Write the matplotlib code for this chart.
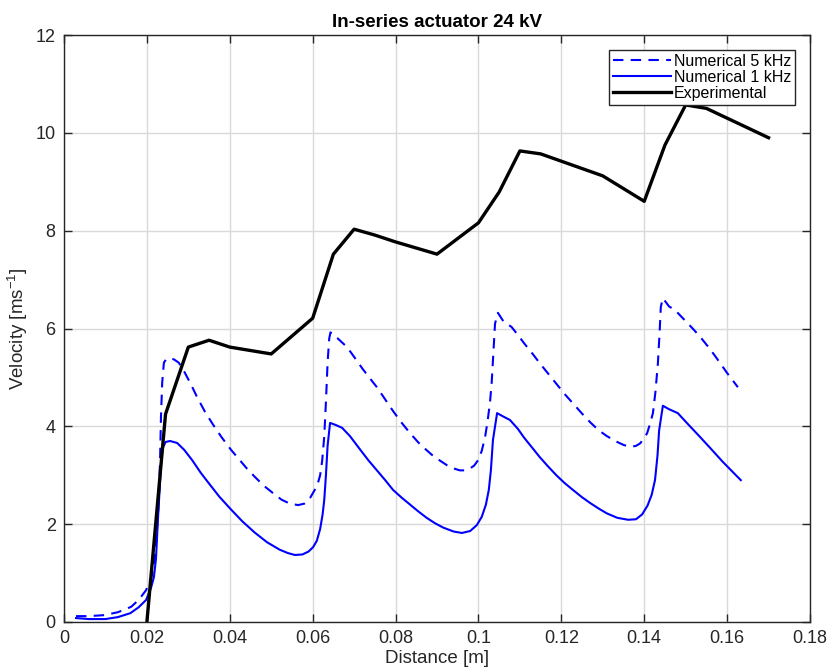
import matplotlib
matplotlib.use("Agg")
import matplotlib.pyplot as plt

plt.rcParams['font.family'] = ['Liberation Sans', 'DejaVu Sans']
plt.rcParams['mathtext.fontset'] = 'custom'
plt.rcParams['mathtext.rm'] = 'Liberation Sans'
plt.rcParams['mathtext.it'] = 'Liberation Sans'

# Numerical model, 5 kHz
num5_x = [0.0029, 0.0060, 0.0097, 0.0130, 0.0162, 0.0180, 0.0198, 0.0210, 0.0217, 0.0223,
          0.0229, 0.0232, 0.0234, 0.0237, 0.0241, 0.0247, 0.0253, 0.0265, 0.0277, 0.0290,
          0.0305, 0.0321, 0.0340, 0.0360, 0.0380, 0.0403, 0.0420, 0.0440, 0.0460, 0.0483,
          0.0505, 0.0525, 0.0545, 0.0565, 0.0580, 0.0594, 0.0605, 0.0613, 0.0618, 0.0623,
          0.0628, 0.0632, 0.0636, 0.0640, 0.0643, 0.0660, 0.0683, 0.0700, 0.0720, 0.0740,
          0.0755, 0.0775, 0.0795, 0.0815, 0.0835, 0.0855, 0.0870, 0.0890, 0.0907, 0.0925,
          0.0940, 0.0955, 0.0968, 0.0980, 0.0990, 0.1000, 0.1008, 0.1016, 0.1022, 0.1028,
          0.1032, 0.1036, 0.1040, 0.1047, 0.1060, 0.1080, 0.1095, 0.1110, 0.1130, 0.1148,
          0.1168, 0.1188, 0.1208, 0.1228, 0.1250, 0.1270, 0.1290, 0.1310, 0.1330, 0.1350,
          0.1366, 0.1380, 0.1390, 0.1400, 0.1407, 0.1414, 0.1421, 0.1427, 0.1433, 0.1437,
          0.1440, 0.1445, 0.1460, 0.1474, 0.1500, 0.1518, 0.1535, 0.1553, 0.1570, 0.1585,
          0.1600, 0.1626]
num5_v = [0.12, 0.12, 0.14, 0.20, 0.31, 0.45, 0.65, 0.90, 1.12, 1.70,
          2.50, 3.40, 4.20, 4.90, 5.30, 5.38, 5.39, 5.37, 5.30, 5.12,
          4.88, 4.60, 4.30, 4.03, 3.78, 3.52, 3.35, 3.15, 2.97, 2.78,
          2.63, 2.50, 2.42, 2.39, 2.42, 2.54, 2.70, 2.85, 3.00, 3.30,
          3.80, 4.50, 5.30, 5.80, 5.92, 5.80, 5.62, 5.42, 5.18, 4.96,
          4.80, 4.55, 4.30, 4.07, 3.86, 3.67, 3.55, 3.40, 3.30, 3.20,
          3.14, 3.10, 3.10, 3.14, 3.20, 3.32, 3.50, 3.78, 4.10, 4.50,
          4.90, 5.50, 6.10, 6.32, 6.15, 6.03, 5.87, 5.70, 5.49, 5.29,
          5.08, 4.87, 4.66, 4.47, 4.26, 4.08, 3.92, 3.80, 3.70, 3.62,
          3.58, 3.60, 3.65, 3.76, 3.86, 4.05, 4.27, 4.70, 5.29, 5.90,
          6.44, 6.62, 6.45, 6.38, 6.15, 5.99, 5.83, 5.64, 5.45, 5.27,
          5.09, 4.80]

# Numerical model, 1 kHz
num1_x = [0.0029, 0.0060, 0.0100, 0.0130, 0.0160, 0.0180, 0.0198, 0.0210, 0.0217, 0.0222,
          0.0226, 0.0230, 0.0234, 0.0238, 0.0245, 0.0256, 0.0273, 0.0290, 0.0310, 0.0330,
          0.0350, 0.0375, 0.0403, 0.0430, 0.0460, 0.0490, 0.0520, 0.0540, 0.0557, 0.0575,
          0.0590, 0.0601, 0.0610, 0.0618, 0.0624, 0.0628, 0.0632, 0.0636, 0.0642, 0.0655,
          0.0671, 0.0690, 0.0715, 0.0735, 0.0755, 0.0775, 0.0794, 0.0815, 0.0835, 0.0855,
          0.0875, 0.0895, 0.0915, 0.0940, 0.0960, 0.0980, 0.0996, 0.1008, 0.1018, 0.1025,
          0.1030, 0.1035, 0.1045, 0.1060, 0.1076, 0.1095, 0.1110, 0.1130, 0.1148, 0.1168,
          0.1188, 0.1208, 0.1228, 0.1250, 0.1270, 0.1290, 0.1310, 0.1335, 0.1361, 0.1380,
          0.1395, 0.1408, 0.1418, 0.1426, 0.1432, 0.1436, 0.1445, 0.1460, 0.1481, 0.1505,
          0.1535, 0.1560, 0.1590, 0.1633]
num1_v = [0.08, 0.06, 0.06, 0.10, 0.18, 0.30, 0.45, 0.70, 0.92, 1.30,
          2.00, 2.60, 3.20, 3.55, 3.68, 3.70, 3.66, 3.52, 3.30, 3.05,
          2.83, 2.56, 2.30, 2.06, 1.83, 1.63, 1.48, 1.41, 1.37, 1.38,
          1.44, 1.53, 1.66, 1.90, 2.20, 2.50, 3.00, 3.60, 4.07, 4.03,
          3.97, 3.80, 3.52, 3.30, 3.10, 2.90, 2.70, 2.54, 2.40, 2.26,
          2.13, 2.02, 1.93, 1.85, 1.82, 1.86, 1.98, 2.15, 2.40, 2.70,
          3.10, 3.72, 4.27, 4.20, 4.13, 3.95, 3.77, 3.56, 3.37, 3.18,
          3.00, 2.84, 2.70, 2.55, 2.43, 2.32, 2.22, 2.13, 2.09, 2.10,
          2.20, 2.38, 2.60, 2.90, 3.40, 3.92, 4.42, 4.35, 4.27, 4.05,
          3.78, 3.55, 3.27, 2.90]

# Measured velocity
exp_x = [0.020, 0.0245, 0.030, 0.035, 0.040, 0.050, 0.060, 0.065, 0.070, 0.075, 0.080,
         0.090, 0.100, 0.105, 0.110, 0.115, 0.130, 0.140, 0.145, 0.150, 0.155, 0.170]
exp_v = [0.00, 4.25, 5.62, 5.76, 5.62, 5.48, 6.21, 7.52, 8.03, 7.91, 7.77,
         7.52, 8.16, 8.79, 9.63, 9.57, 9.12, 8.60, 9.75, 10.57, 10.50, 9.90]

x_ticks = [0, 0.02, 0.04, 0.06, 0.08, 0.10, 0.12, 0.14, 0.16, 0.18]
x_tick_labels = ['0', '0.02', '0.04', '0.06', '0.08', '0.1', '0.12', '0.14', '0.16', '0.18']
y_ticks = [0, 2, 4, 6, 8, 10, 12]
y_tick_labels = ['0', '2', '4', '6', '8', '10', '12']

fig = plt.figure(figsize=(8.30, 6.71), dpi=100)
ax = fig.add_axes([64 / 830, 49 / 671, 746 / 830, 587 / 671])

ax.plot(num5_x, num5_v, color='#0000ff', lw=1.5, ls=(0, (5, 3.5)), label='Numerical 5 kHz')
ax.plot(num1_x, num1_v, color='#0000ff', lw=1.5, label='Numerical 1 kHz')
ax.plot(exp_x, exp_v, color='black', lw=2.4, label='Experimental')

ax.set_xlim(0, 0.18)
ax.set_ylim(0, 12)
ax.set_xticks(x_ticks)
ax.set_xticklabels(x_tick_labels)
ax.set_yticks(y_ticks)
ax.set_yticklabels(y_tick_labels)

ax.grid(True, color='#d9d9d9', lw=1.0)
ax.set_axisbelow(True)
ax.tick_params(direction='in', length=6, width=1, top=True, right=True,
               labelsize=13, colors='#262626', pad=6)
for s in ax.spines.values():
    s.set_color('#262626')
    s.set_linewidth(1.0)

ax.set_xlabel('Distance [m]', fontsize=13.5, color='#262626', labelpad=2)
ax.set_ylabel(r'Velocity [ms$^{\mathregular{-1}}$]', fontsize=13.5, color='#262626', labelpad=4)
ax.set_title('In-series actuator 24 kV', fontsize=13.5, fontweight='bold', pad=6)

leg = ax.legend(loc='upper right', bbox_to_anchor=(1 - 15 / 746, 1 - 15 / 587),
                borderaxespad=0, fontsize=11.5, frameon=True, fancybox=False,
                framealpha=1, edgecolor='#262626', handlelength=3.6,
                handletextpad=0.2, labelspacing=0.05, borderpad=0.25)
leg.get_frame().set_linewidth(1.0)

fig.savefig('out.png', dpi=100, facecolor='white')
